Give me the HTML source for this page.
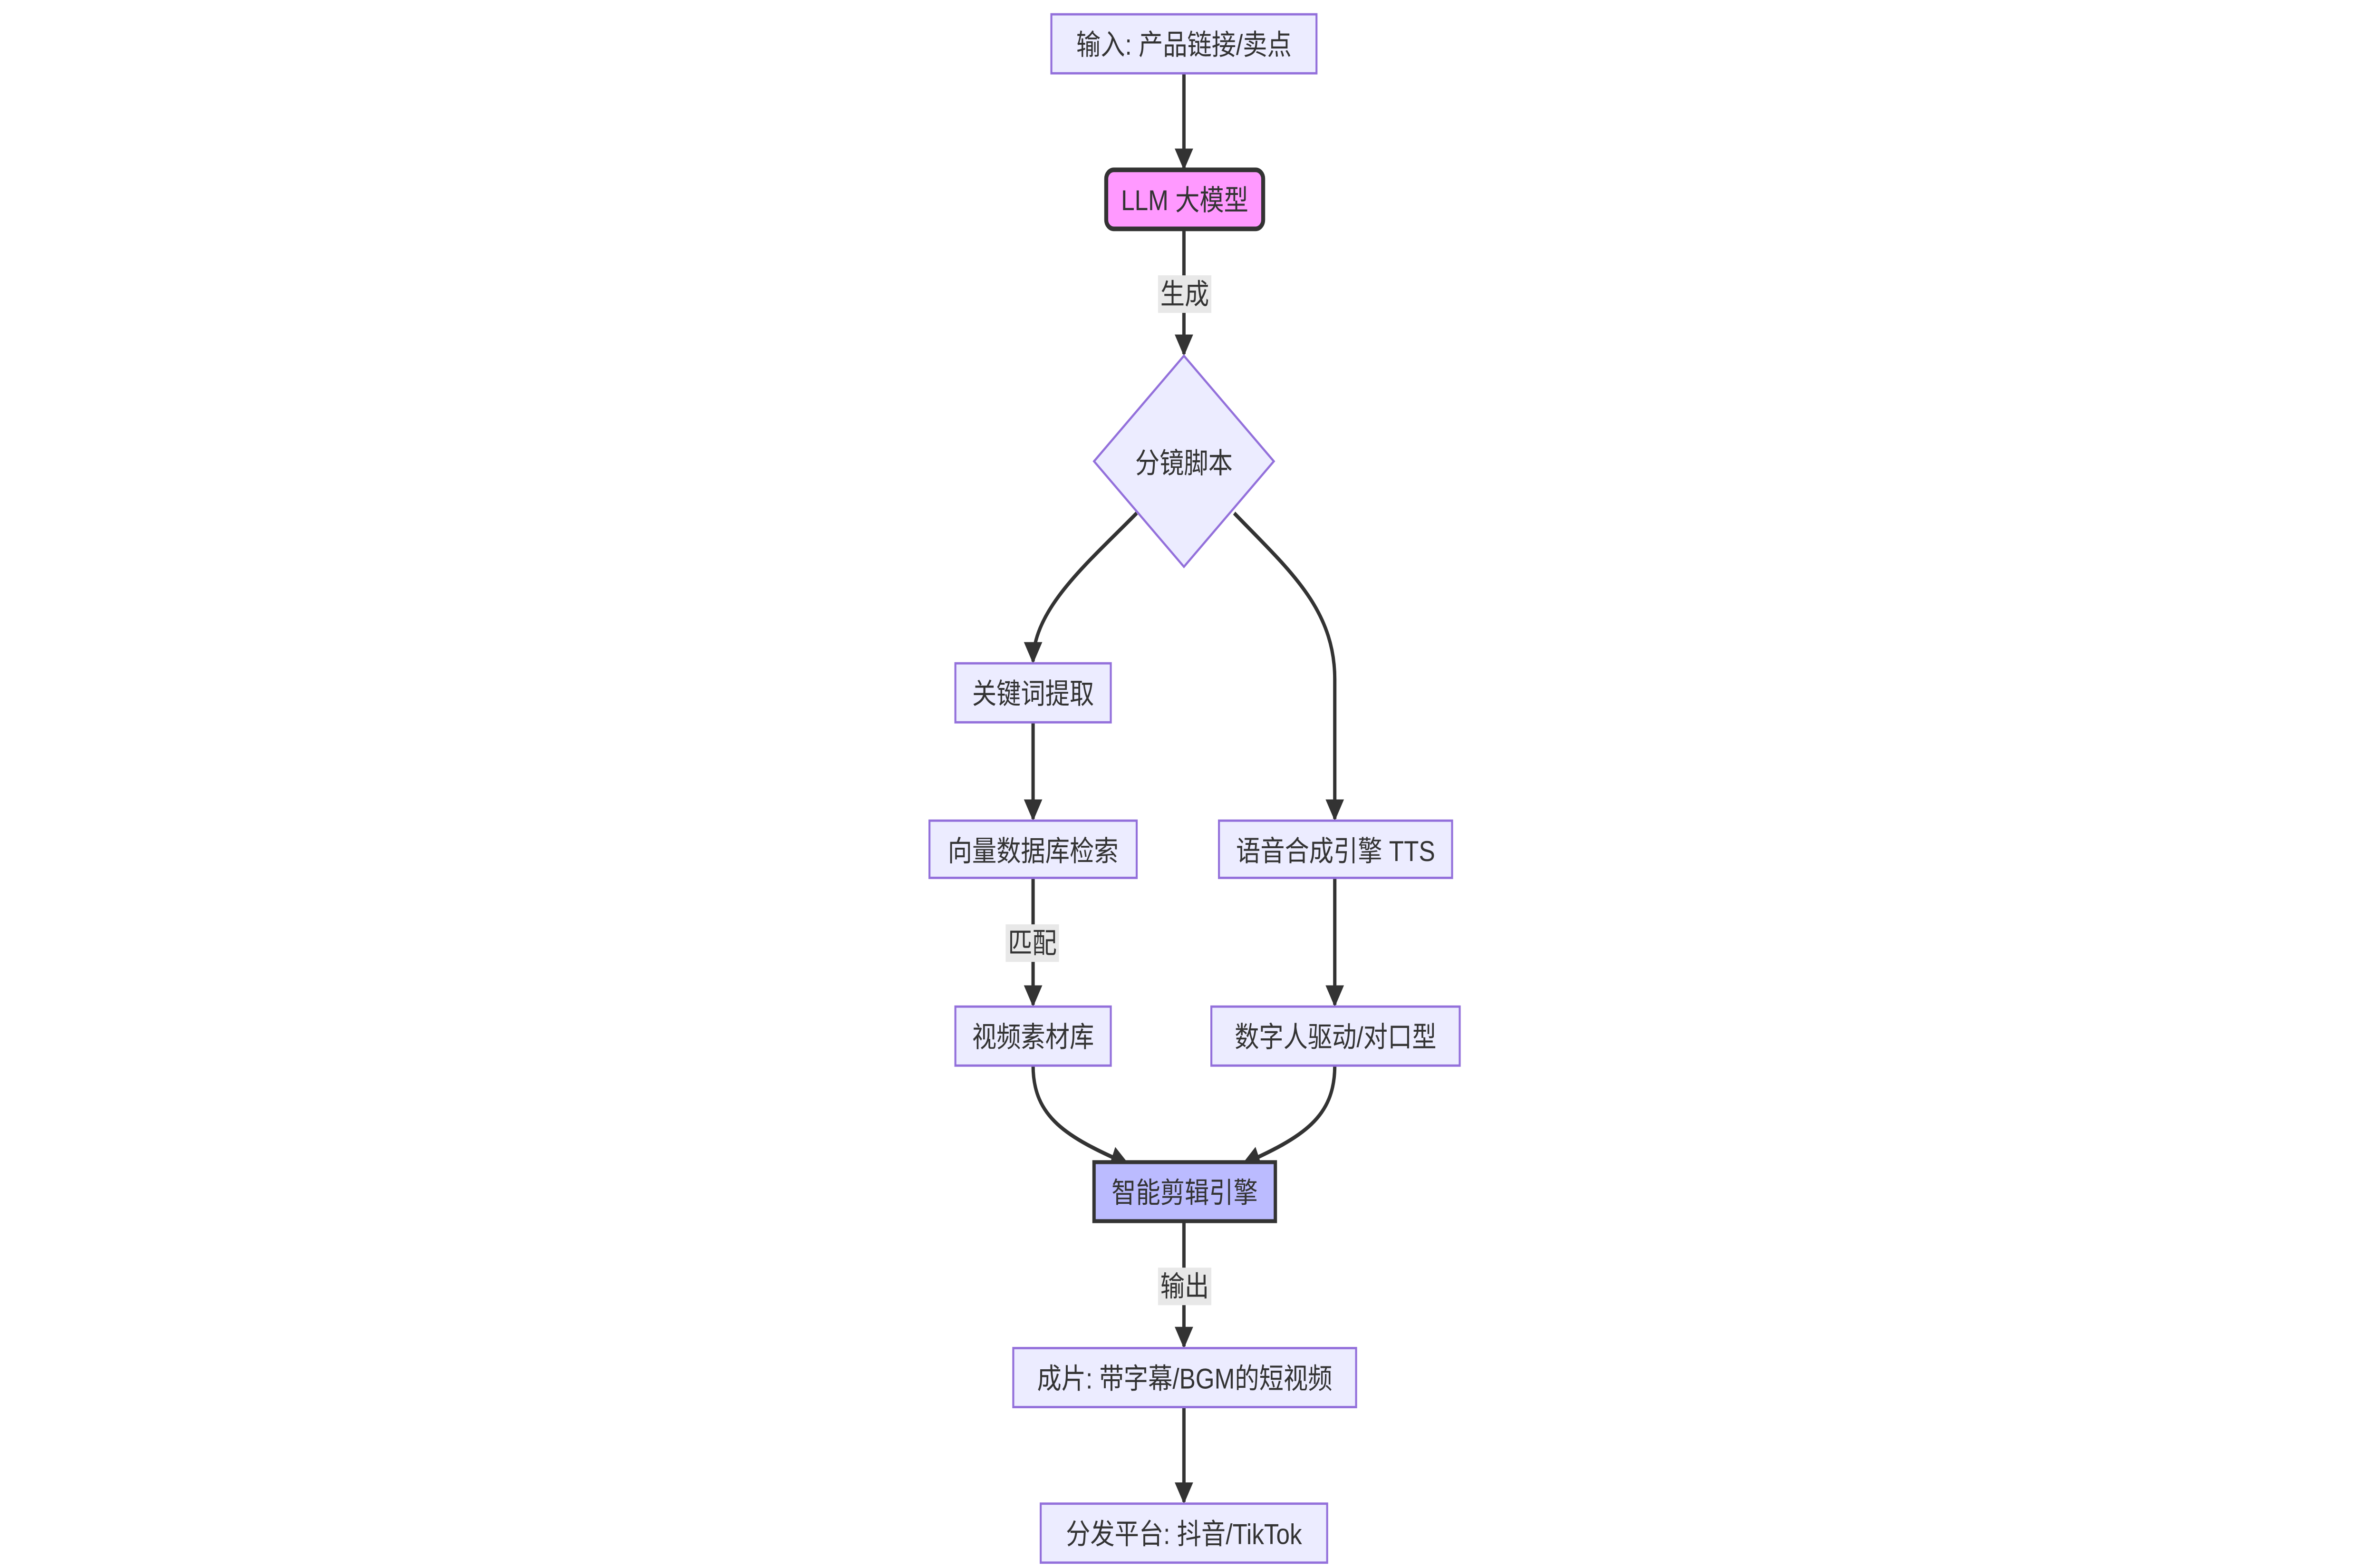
<!DOCTYPE html>
<html><head><meta charset="utf-8"><style>
html,body{margin:0;padding:0;background:#fff;width:100%;height:100%;overflow:hidden;}
svg{display:block;position:fixed;left:0;top:0;width:100vw;height:100vh;}
text{font-family:"Liberation Sans","Noto Sans CJK SC",sans-serif;font-size:16px;fill:#333;text-anchor:middle;dominant-baseline:central;}
.n{fill:#ececff;stroke:#9370db;stroke-width:1.3;}
.e{fill:none;stroke:#333;stroke-width:2.2;}
.lb{fill:#e8e8e8;}
</style></head><body>
<svg viewBox="0 0 1560 877" preserveAspectRatio="none" xmlns="http://www.w3.org/2000/svg">
<defs><marker id="a" viewBox="0 0 10 10" refX="9" refY="5" markerWidth="5.5" markerHeight="5.5" orient="auto-start-reverse" markerUnits="strokeWidth"><path d="M0,0L10,5L0,10z" fill="#333"/></marker></defs>
<path class="e" d="M777,41V94" marker-end="url(#a)"/>
<path class="e" d="M777,128V198" marker-end="url(#a)"/>
<path class="e" d="M746,287C715,314 678,340 678,370" marker-end="url(#a)"/>
<path class="e" d="M810,287C845,318 876,340 876,380V458" marker-end="url(#a)"/>
<path class="e" d="M678,404V458" marker-end="url(#a)"/>
<path class="e" d="M678,491V562" marker-end="url(#a)"/>
<path class="e" d="M876,491V562" marker-end="url(#a)"/>
<path class="e" d="M678,596C678,625 700,636 740,651" marker-end="url(#a)"/>
<path class="e" d="M876,596C876,625 855,636 816,651" marker-end="url(#a)"/>
<path class="e" d="M777,683V753" marker-end="url(#a)"/>
<path class="e" d="M777,787V840" marker-end="url(#a)"/>
<rect class="lb" x="760" y="154" width="35" height="21"/><text x="777.5" y="164.5">生成</text>
<rect class="lb" x="660" y="517" width="35" height="21"/><text x="677.5" y="527.5">匹配</text>
<rect class="lb" x="760" y="709" width="35" height="21"/><text x="777.5" y="719.5">输出</text>
<rect class="n" x="690" y="8" width="174" height="33"/><text x="777" y="25">输入: 产品链接/卖点</text>
<rect x="726" y="95" width="103" height="33" rx="5" fill="#ff99ff" stroke="#333" stroke-width="2.6"/><text x="777.5" y="112">LLM 大模型</text>
<polygon class="n" points="777,199 836,258 777,317 718,258"/><text x="777" y="259">分镜脚本</text>
<rect class="n" x="627" y="371" width="102" height="33"/><text x="678" y="388">关键词提取</text>
<rect class="n" x="610" y="459" width="136" height="32"/><text x="678" y="476">向量数据库检索</text>
<rect class="n" x="800" y="459" width="153" height="32"/><text x="876.5" y="476">语音合成引擎 TTS</text>
<rect class="n" x="627" y="563" width="102" height="33"/><text x="678" y="580">视频素材库</text>
<rect class="n" x="795" y="563" width="163" height="33"/><text x="876.5" y="580">数字人驱动/对口型</text>
<rect x="718" y="650" width="119" height="33" fill="#bbbbff" stroke="#333" stroke-width="2.2"/><text x="777.5" y="667">智能剪辑引擎</text>
<rect class="n" x="665" y="754" width="225" height="33"/><text x="777.5" y="771">成片: 带字幕/BGM的短视频</text>
<rect class="n" x="683" y="841" width="188" height="33"/><text x="777" y="858">分发平台: 抖音/TikTok</text>
</svg>
</body></html>
